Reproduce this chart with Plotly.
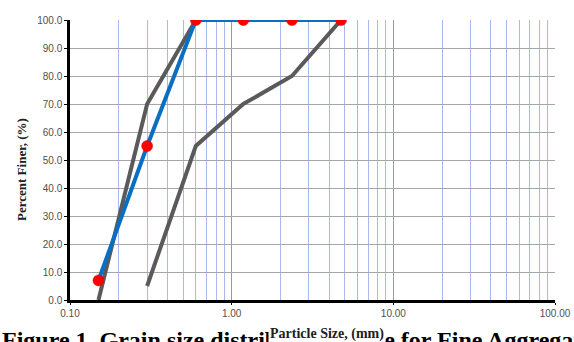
import plotly.graph_objects as go

# Data
sieve_sizes = [0.15, 0.3, 0.6, 1.18, 2.36, 4.75]
sample_finer = [7.0, 55.0, 100.0, 100.0, 100.0, 100.0]
upper_sizes = [0.15, 0.3, 0.6, 1.18, 2.36, 4.75]
upper_limit = [0.0, 70.0, 100.0, 100.0, 100.0, 100.0]
lower_sizes = [0.3, 0.6, 1.18, 2.36, 4.75]
lower_limit = [5.0, 55.0, 70.0, 80.0, 100.0]
x_tick_vals = [0.1, 1, 10, 100]
x_tick_text = ["0.10", "1.00", "10.00", "100.00"]

W, H = 574, 342
L, R, T, B = 70, 19, 20, 42
plot_h = H - T - B

def py(p):
    return 1 - (p - T) / plot_h

def px(p):
    return (p - L) / (W - L - R)

minor_vals = [m * 10 ** e for e in (-1, 0, 1) for m in range(2, 10)]

fig = go.Figure()
fig.add_trace(go.Scatter(x=upper_sizes, y=upper_limit, mode="lines",
                         line=dict(color="#5a5a5a", width=4), showlegend=False))
fig.add_trace(go.Scatter(x=lower_sizes, y=lower_limit, mode="lines",
                         line=dict(color="#5a5a5a", width=4), showlegend=False))
fig.add_trace(go.Scatter(x=sieve_sizes, y=sample_finer, mode="lines+markers",
                         line=dict(color="#0a6fc2", width=4),
                         marker=dict(color="#ff0000", size=11,
                                     line=dict(color="#e00000", width=0.5)),
                         showlegend=False))

fig.update_layout(
    width=W, height=H,
    margin=dict(l=L, r=R, t=T, b=B, autoexpand=False),
    paper_bgcolor="white", plot_bgcolor="white",
    font=dict(family="Liberation Sans, Arial", size=10, color="#505050"),
)
fig.update_xaxes(
    type="log", range=[-1, 2], automargin=False,
    tickmode="array", tickvals=x_tick_vals, ticktext=x_tick_text,
    showgrid=True, gridcolor="#9a9a9a", gridwidth=1,
    showline=True, linecolor="black", linewidth=2.5,
    ticks="outside", ticklen=2, tickcolor="black",
    minor=dict(tickvals=minor_vals, showgrid=True, gridcolor="#a8b8f0", gridwidth=1, ticks=""),
    zeroline=False, tickfont=dict(size=10, color="#505050"),
)
fig.update_yaxes(
    range=[0, 100], dtick=10, tickformat=".1f", automargin=False,
    showgrid=True, gridcolor="#a6a6a6", gridwidth=1,
    showline=True, linecolor="black", linewidth=2.5,
    ticks="outside", ticklen=3, tickcolor="black",
    zeroline=False, tickfont=dict(size=10, color="#505050"),
)

fig.add_annotation(text="<b>Figure 1. Grain size distribution curve for Fine Aggregate</b>",
                   xref="paper", yref="paper", x=px(0), y=py(325),
                   xanchor="left", yanchor="top", showarrow=False,
                   font=dict(family="Liberation Serif, Times New Roman", size=24, color="black"))
fig.add_annotation(text="<b>Particle Size, (mm)</b>",
                   xref="paper", yref="paper", x=px(327), y=py(334),
                   xanchor="center", yanchor="middle", showarrow=False,
                   bgcolor="white", borderpad=1,
                   font=dict(family="Liberation Serif, Times New Roman", size=14, color="#202020"))
fig.add_annotation(text="<b>Percent Finer, (%)</b>",
                   xref="paper", yref="paper", x=px(21), y=py(170),
                   xanchor="center", yanchor="middle", showarrow=False, textangle=-90,
                   font=dict(family="Liberation Serif, Times New Roman", size=13, color="#202020"))

fig.write_html("out.html", config={"displayModeBar": False},
               post_script="document.body.style.margin='0';document.body.style.overflow='hidden';")
